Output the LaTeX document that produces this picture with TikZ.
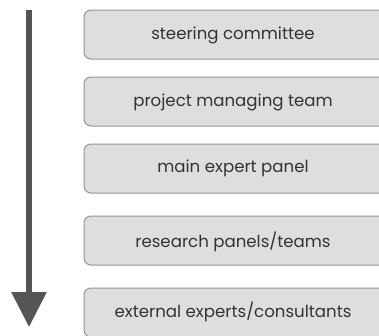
\documentclass[tikz,border=0pt]{standalone}
\usepackage{fontspec}
\usetikzlibrary{arrows.meta}
\setmainfont{Poppins}
\definecolor{boxfill}{HTML}{DEDEDE}
\definecolor{boxline}{HTML}{969696}
\definecolor{arrowgray}{HTML}{555555}
\begin{document}
\begin{tikzpicture}[x=1pt,y=-1pt,
  level/.style={draw=boxline,fill=boxfill,line width=1pt,rounded corners=7pt,
    minimum width=310pt,minimum height=49pt,anchor=north west,inner sep=0pt,outer sep=0pt},
  txt/.style={text=black!80,font=\fontsize{16.6}{18}\selectfont,inner sep=0pt},
  flow/.style={draw=arrowgray,line width=6pt,-{Triangle[width=34pt,length=35pt]}}]
\useasboundingbox[fill=white] (0,0) rectangle (379,335);
\node[level] (b1) at (84,10) {};
\node[level] (b2) at (84,77) {};
\node[level] (b3) at (84,144) {};
\node[level] (b4) at (84,216) {};
\node[level] (b5) at (84,288) {};
\node[txt] (t1) at (233,35) {steering committee};
\node[txt] (t2) at (233,102) {project managing team};
\node[txt] (t3) at (233,168) {main expert panel};
\node[txt] (t4) at (233,242) {research panels/teams};
\node[txt] (t5) at (233,312) {external experts/consultants};
\coordinate (atop) at (29,10);
\coordinate (abot) at (29,327);
\draw[flow] (atop) -- (abot);
\end{tikzpicture}
\end{document}
